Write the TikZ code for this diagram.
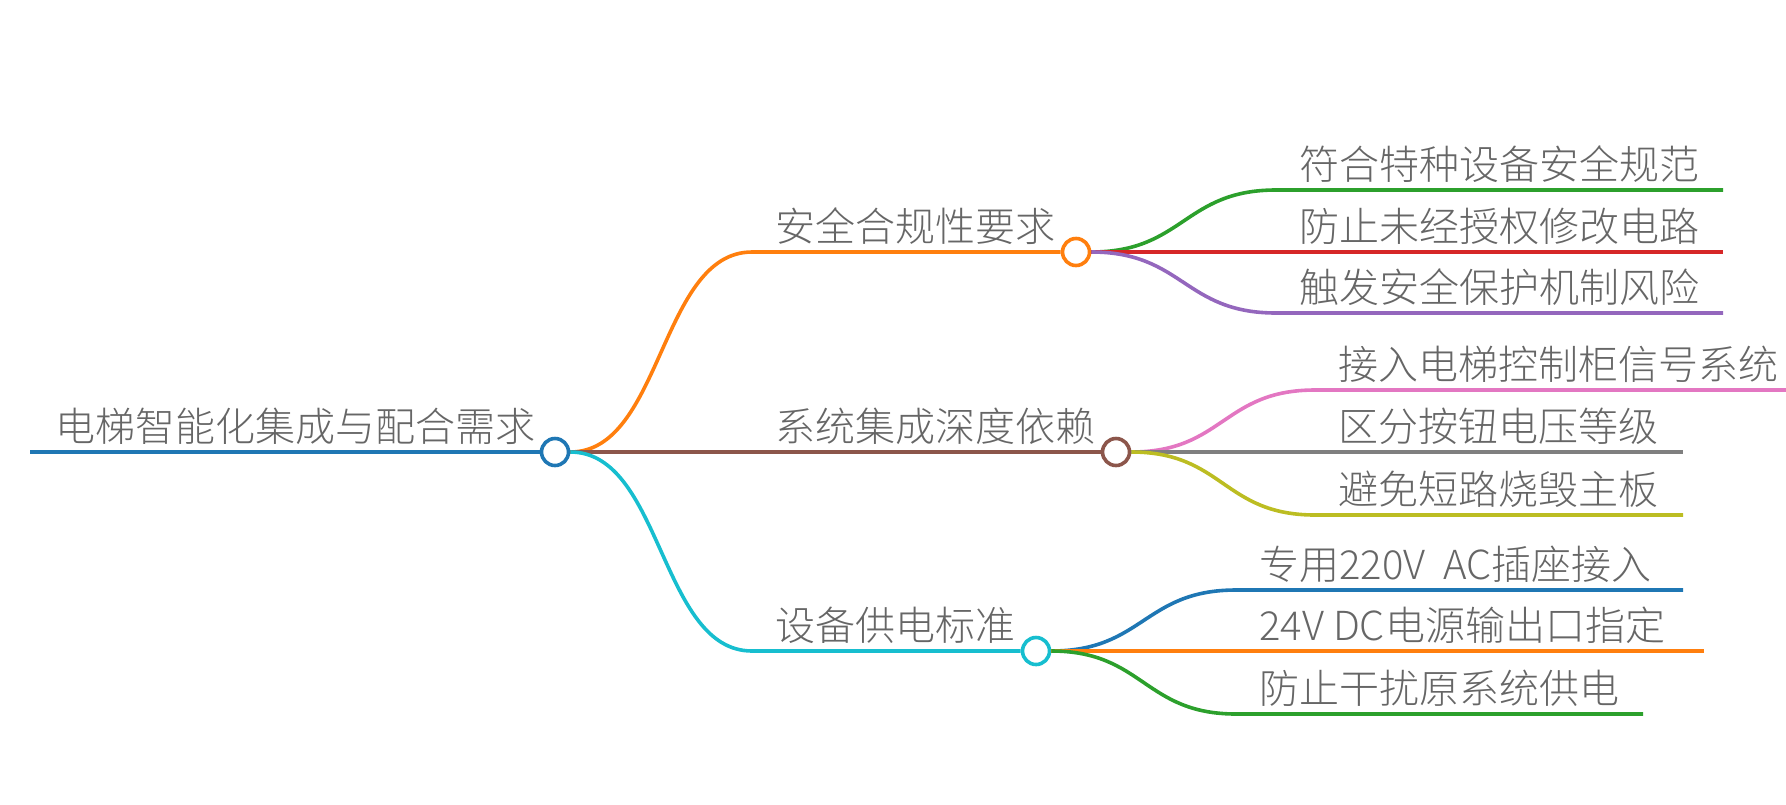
\documentclass[tikz,border=0pt]{standalone}
\usepackage{fontspec}
\setmainfont{Noto Sans CJK SC Light}
\definecolor{tabblue}{HTML}{1F77B4}
\definecolor{taborange}{HTML}{FF7F0E}
\definecolor{tabgreen}{HTML}{2CA02C}
\definecolor{tabred}{HTML}{D62728}
\definecolor{tabpurple}{HTML}{9467BD}
\definecolor{tabbrown}{HTML}{8C564B}
\definecolor{tabpink}{HTML}{E377C2}
\definecolor{tabgray}{HTML}{7F7F7F}
\definecolor{tabolive}{HTML}{BCBD22}
\definecolor{tabcyan}{HTML}{17BECF}
\definecolor{txtgray}{HTML}{666666}
\begin{document}
\begin{tikzpicture}[x=0.5pt, y=-0.5pt,
  every node/.style={font=\fontsize{20pt}{24pt}\selectfont, text=txtgray},
  txt/.style={anchor=base west, inner sep=0pt},
  hub/.style={circle, draw, line width=1.8pt, fill=white, minimum size=13.5pt, inner sep=0pt},
  edge/.style={line width=1.8pt},
  sbend/.style={to path={.. controls +(92,0) and +(-92,0) .. (\tikztotarget)}}]
  \useasboundingbox (0,0) rectangle (1786,804);
  % root
  \coordinate (r0) at (30,452);
  \node[hub, draw=tabblue] (r) at (555,452) {};
  \node[txt] (rt) at (55,441) {电梯智能化集成与配合需求};
  % branches
  \coordinate (b1s) at (752,252);
  \coordinate (b2s) at (752,452);
  \coordinate (b3s) at (752,651);
  \node[hub, draw=taborange] (b1) at (1076,252) {};
  \node[hub, draw=tabbrown] (b2) at (1116,452) {};
  \node[hub, draw=tabcyan] (b3) at (1036,651) {};
  \node[txt] (b1t) at (775,241) {安全合规性要求};
  \node[txt] (b2t) at (775,441) {系统集成深度依赖};
  \node[txt] (b3t) at (775,640) {设备供电标准};
  % leaves
  \coordinate (l11) at (1276,190); \coordinate (l11e) at (1723,190);
  \coordinate (l12) at (1276,252); \coordinate (l12e) at (1723,252);
  \coordinate (l13) at (1276,313); \coordinate (l13e) at (1723,313);
  \coordinate (l21) at (1315,390); \coordinate (l21e) at (1786,390);
  \coordinate (l22) at (1315,452); \coordinate (l22e) at (1683,452);
  \coordinate (l23) at (1315,515); \coordinate (l23e) at (1683,515);
  \coordinate (l31) at (1236,590); \coordinate (l31e) at (1683,590);
  \coordinate (l32) at (1236,651); \coordinate (l32e) at (1704,651);
  \coordinate (l33) at (1236,714); \coordinate (l33e) at (1643,714);
  \node[txt] (l11t) at (1299,179) {符合特种设备安全规范};
  \node[txt] (l12t) at (1299,241) {防止未经授权修改电路};
  \node[txt] (l13t) at (1299,302) {触发安全保护机制风险};
  \node[txt] (l21t) at (1338,379) {接入电梯控制柜信号系统};
  \node[txt] (l22t) at (1338,441) {区分按钮电压等级};
  \node[txt] (l23t) at (1338,504) {避免短路烧毁主板};
  \node[txt] (l31t) at (1259,579) {专用220V\ \ AC插座接入};
  \node[txt] (l32t) at (1259,640) {24V\ DC电源输出口指定};
  \node[txt] (l33t) at (1259,703) {防止干扰原系统供电};
  % connectors
  \draw[edge, tabblue] (r0) -- (r);
  \draw[edge, taborange] (r.east) to[sbend] (b1s) -- (b1);
  \draw[edge, tabbrown] (r.east) to[sbend] (b2s) -- (b2);
  \draw[edge, tabcyan] (r.east) to[sbend] (b3s) -- (b3);
  \draw[edge, tabgreen] (b1.east) to[sbend] (l11) -- (l11e);
  \draw[edge, tabred] (b1.east) to[sbend] (l12) -- (l12e);
  \draw[edge, tabpurple] (b1.east) to[sbend] (l13) -- (l13e);
  \draw[edge, tabpink] (b2.east) to[sbend] (l21) -- (l21e);
  \draw[edge, tabgray] (b2.east) to[sbend] (l22) -- (l22e);
  \draw[edge, tabolive] (b2.east) to[sbend] (l23) -- (l23e);
  \draw[edge, tabblue] (b3.east) to[sbend] (l31) -- (l31e);
  \draw[edge, taborange] (b3.east) to[sbend] (l32) -- (l32e);
  \draw[edge, tabgreen] (b3.east) to[sbend] (l33) -- (l33e);
\end{tikzpicture}
\end{document}
